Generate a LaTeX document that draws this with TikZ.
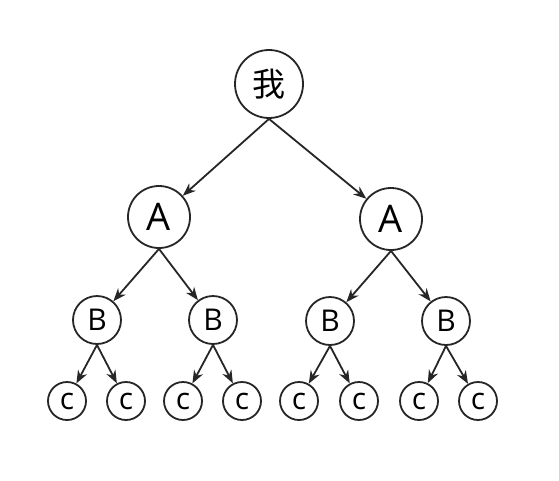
\documentclass[tikz,border=0pt]{standalone}
\usepackage{fontspec}
\setmainfont{Open Sans}
\newfontfamily\cjk{Noto Sans CJK SC}
\usetikzlibrary{arrows.meta}
\begin{document}
\begin{tikzpicture}[x=1pt,y=-1pt,
  nd/.style={draw=black!85, line width=1.8pt, circle, inner sep=0pt},
  root/.style={nd, minimum size=68pt, font=\cjk\fontsize{33}{33}\selectfont},
  anode/.style={nd, minimum size=62pt, font=\fontsize{38}{38}\selectfont},
  bnode/.style={nd, minimum size=48pt, font=\fontsize{30}{30}\selectfont},
  cnode/.style={nd, minimum size=38pt, font=\fontsize{30}{30}\selectfont},
  edge/.style={draw=black!85, line width=1.8pt, -{Stealth[length=13pt,width=10pt]}}]
\useasboundingbox[fill=white] (0,0) rectangle (559,480);
\node[root] (r) at (269,84) {我};
\node[anode] (a1) at (159,217) {A};
\node[anode] (a2) at (391,219) {A};
\node[bnode] (b1) at (97,320) {B};
\node[bnode] (b2) at (213,320) {B};
\node[bnode] (b3) at (330,321) {B};
\node[bnode] (b4) at (446,321) {B};
\node[cnode] (c1) at (67,401) {c};
\node[cnode] (c2) at (126,401) {c};
\node[cnode] (c3) at (183,401) {c};
\node[cnode] (c4) at (242,401) {c};
\node[cnode] (c5) at (299,401) {c};
\node[cnode] (c6) at (359,401) {c};
\node[cnode] (c7) at (419,401) {c};
\node[cnode] (c8) at (478,401) {c};
\foreach \p/\c in {r/a1,r/a2,a1/b1,a1/b2,a2/b3,a2/b4,b1/c1,b1/c2,b2/c3,b2/c4,b3/c5,b3/c6,b4/c7,b4/c8}
  \draw[edge] (\p.south) -- (\c);
\end{tikzpicture}
\end{document}
